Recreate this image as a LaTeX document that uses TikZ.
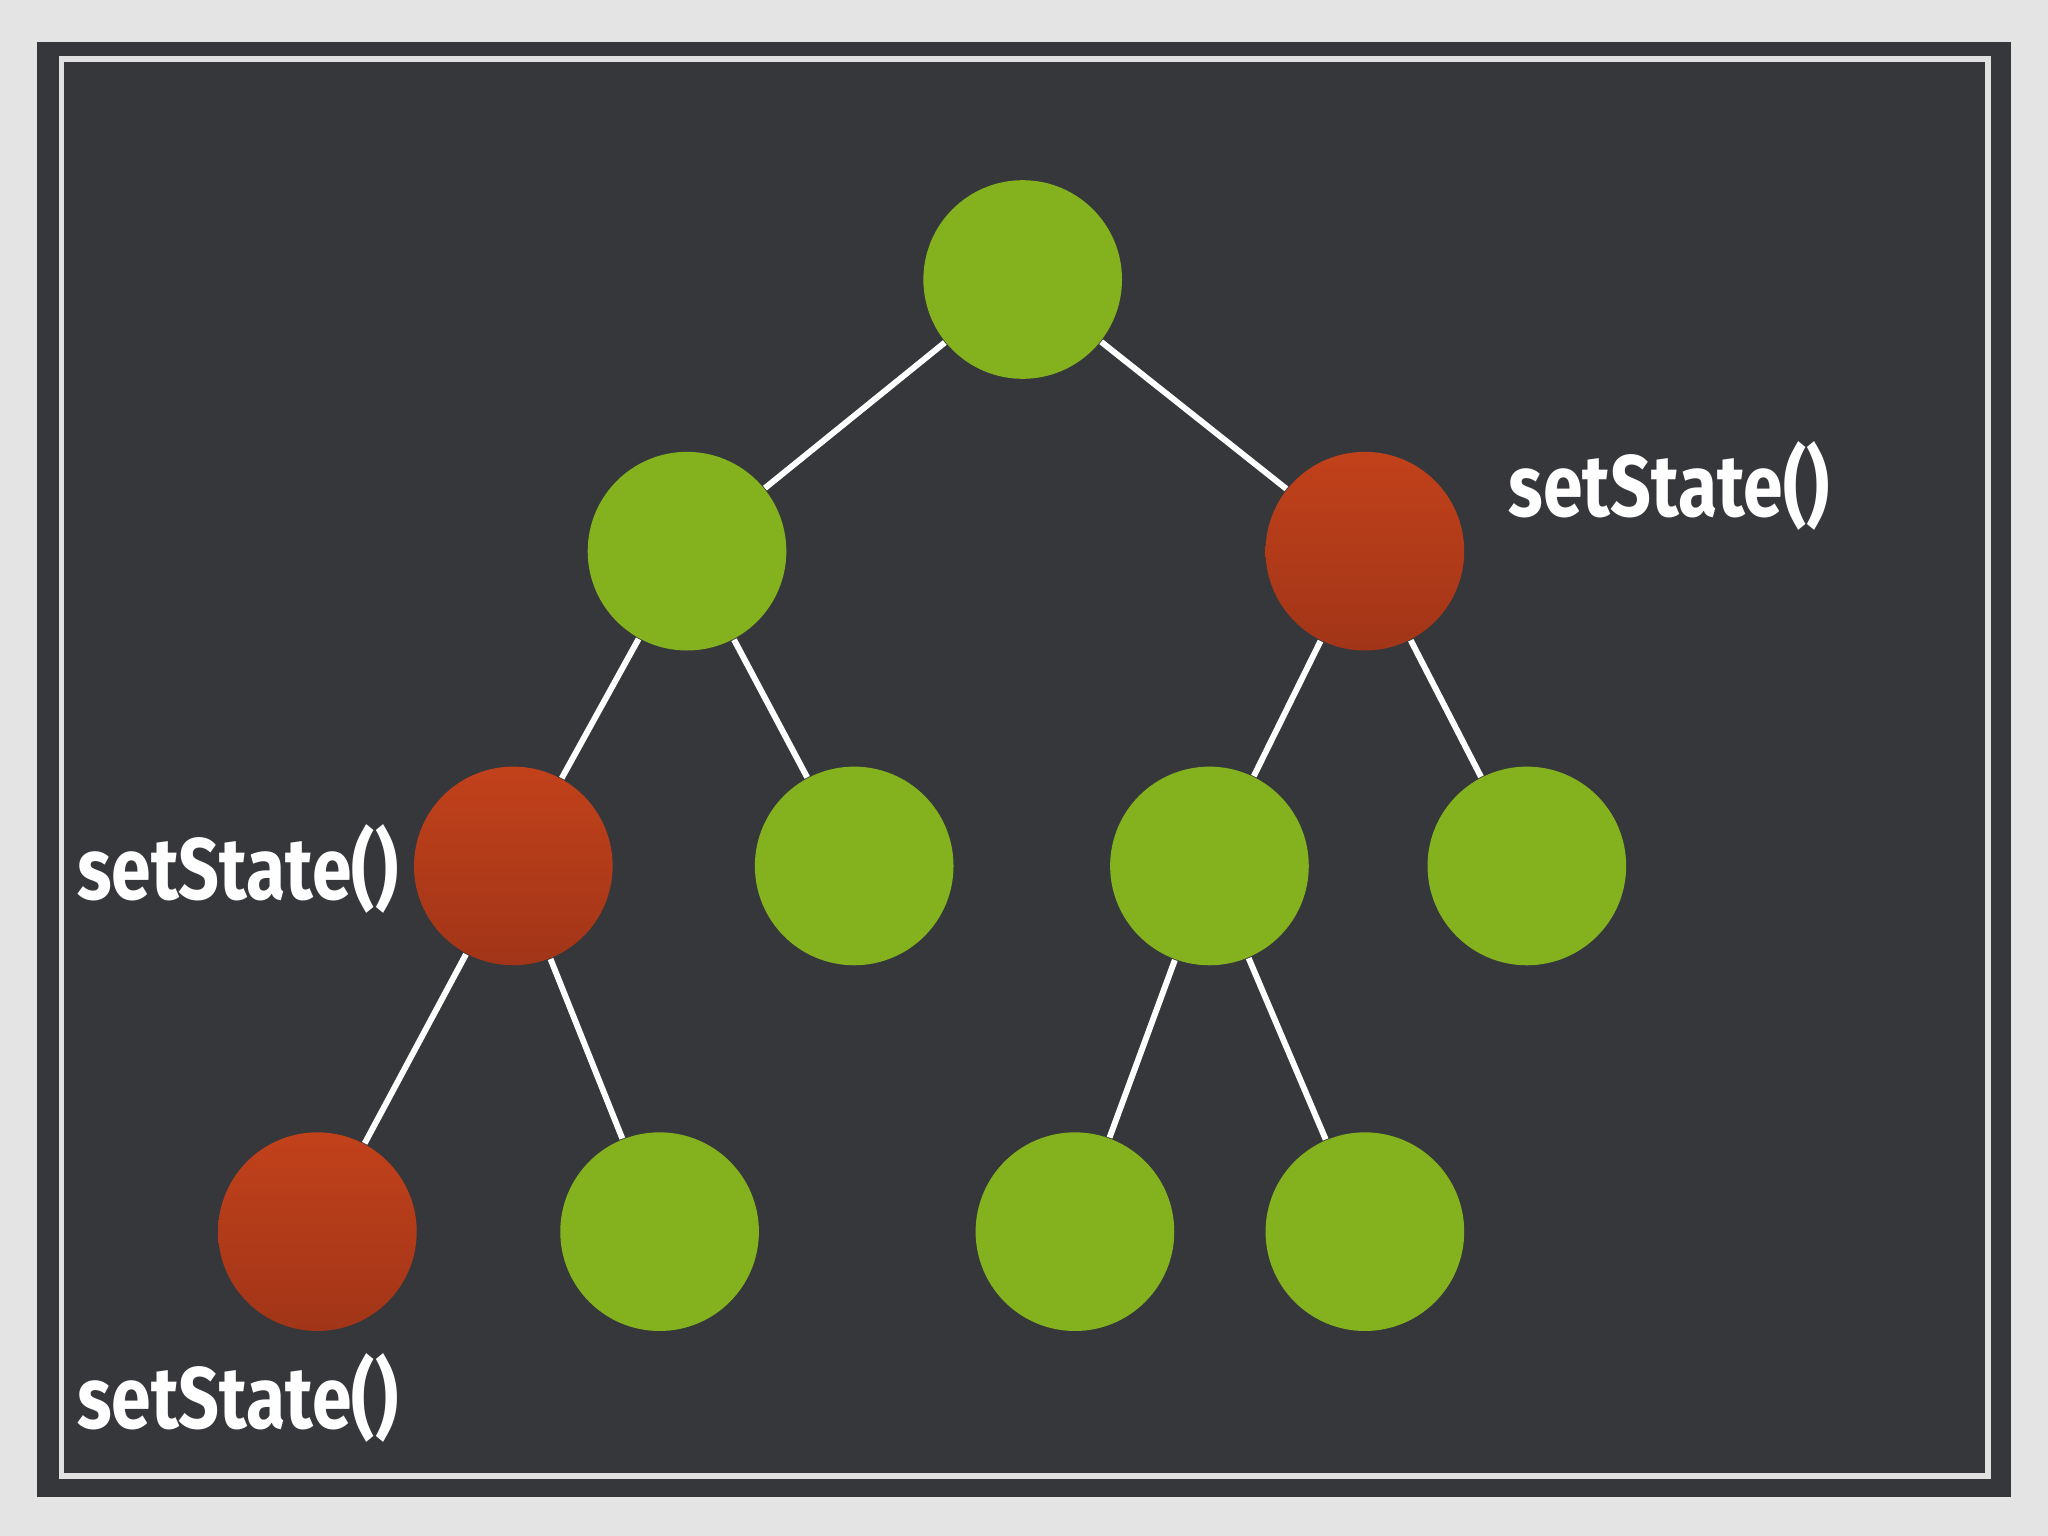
\documentclass[tikz,border=0pt]{standalone}
\usepackage{fontspec}
\setmainfont{Fira Sans}
\definecolor{board}{HTML}{35373B}
\definecolor{paper}{HTML}{E4E4E4}
\definecolor{leafgreen}{HTML}{84B21E}
\definecolor{hotred}{HTML}{BE3E1C}
\begin{document}
\begin{tikzpicture}[x=0.01cm, y=-0.01cm]
    \tikzstyle{ok} = [circle, minimum size=1.52cm, inner sep=0pt, fill=leafgreen]
    \tikzstyle{dirty} = [circle, minimum size=1.52cm, inner sep=0pt, top color=hotred!95!orange, bottom color=hotred!85!black]
    \tikzstyle{edge} = [white, line width=1.3pt]
    \tikzstyle{call} = [text=white, font=\fontsize{19}{20}\selectfont\bfseries, xscale=0.82]

    % Board
    \fill[paper] (0,0) rectangle (1568,1176);
    \fill[board] (28,32) rectangle (1540,1146);
    \draw[white!85!board, line width=1.2pt] (47,45) rectangle (1522,1130);

    % Nodes
    \node (root) [ok] at (783,214) {};
    \node (left) [ok] at (526,422) {};
    \node (right) [dirty] at (1045,422) {};
    \node (leftA) [dirty] at (393,663) {};
    \node (leftB) [ok] at (654,663) {};
    \node (rightA) [ok] at (926,663) {};
    \node (rightB) [ok] at (1169,663) {};
    \node (leafA) [dirty] at (243,943) {};
    \node (leafB) [ok] at (505,943) {};
    \node (leafC) [ok] at (823,943) {};
    \node (leafD) [ok] at (1045,943) {};

    % Labels
    \node (callR) [call] at (1278,372) {setState()};
    \node (callL) [call] at (182,665) {setState()};
    \node (callB) [call] at (182,1070) {setState()};

    % Edges
    \draw [edge] (root) -- (left);
    \draw [edge] (root) -- (right);
    \draw [edge] (left) -- (leftA);
    \draw [edge] (left) -- (leftB);
    \draw [edge] (right) -- (rightA);
    \draw [edge] (right) -- (rightB);
    \draw [edge] (leftA) -- (leafA);
    \draw [edge] (leftA) -- (leafB);
    \draw [edge] (rightA) -- (leafC);
    \draw [edge] (rightA) -- (leafD);
\end{tikzpicture}
\end{document}
